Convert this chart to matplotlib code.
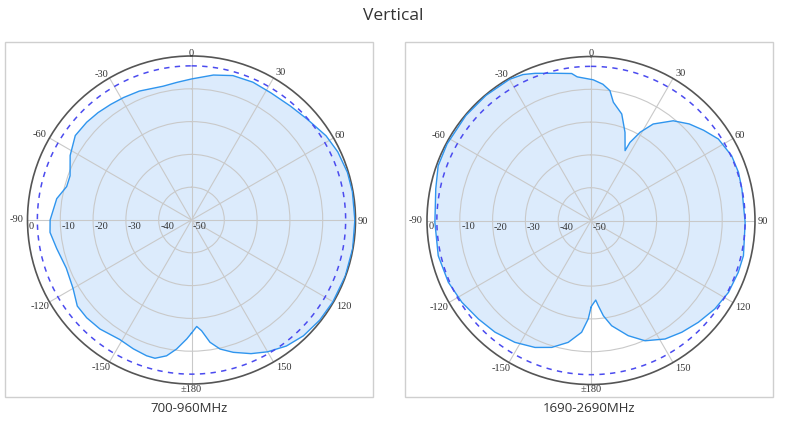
import numpy as np
import matplotlib
matplotlib.use("Agg")
import matplotlib.pyplot as plt
from matplotlib.patches import Rectangle
import matplotlib.transforms as mtransforms

# ---------------- data ----------------
title = "Vertical"
panel_titles = ["700-960MHz", "1690-2690MHz"]

angle_ticks = [0, 30, 60, 90, 120, 150, 180, -150, -120, -90, -60, -30]
angle_labels = ["0", "30", "60", "90", "120", "150", "\u00b1180",
                "-150", "-120", "-90", "-60", "-30"]
radial_ticks = [0, -10, -20, -30, -40, -50]
radial_labels = ["0", "-10", "-20", "-30", "-40", "-50"]
ref_level = -3  # dashed reference circle (dB)

# 700-960 MHz pattern: angle (deg, clockwise from top) and gain (dB)
low_angles = [-180, -177.7, -173.4, -169.6, -165.2, -161.7, -155.7, -149, -140,
              -133, -127, -120, -111, -102, -95, -90, -81, -75, -70, -62, -54,
              -47, -41, -35, -29, -22, -12, -6, 0, 8.6, 16, 24, 32, 41, 49, 58,
              65, 73, 80, 90, 100, 110, 120, 128, 136, 143, 150, 156, 162.5,
              167.5, 171.4, 174.8, 177.2, 180]
low_gain = [-15.5, -13.7, -10.4, -7.9, -6.4, -6.4, -6.9, -7.5, -6.6,
            -6.3, -6.4, -8.3, -9.1, -8.0, -6.7, -6.9, -8.4, -10.6, -10.6, -8.1, -6.2,
            -6.3, -6.6, -7.0, -7.3, -7.6, -8.3, -7.8, -7.0, -5.3, -4.2, -4.0, -4.3, -4.0, -3.2, -1.6,
            -0.8, -0.3, -0.2, -0.2, -0.1, -0.1, -0.2, -0.4, -0.9, -1.9, -3.6, -5.4, -7.7,
            -9.7, -12.3, -16.1, -17.5, -15.5]

# 1690-2690 MHz pattern
high_angles = [-180, -178.4, -175.2, -169.4, -162.8, -156.2, -148, -139.3, -131.2,
               -122.3, -113.4, -103, -90.7, -78.5, -70.3, -62, -50, -40, -30, -25,
               -20.8, -13.7, -7.5, -5.5, 0.9, 5, 8.3, 10.7, 16.1, 21.1, 26, 26.5,
               29.1, 32.8, 39.5, 45.5, 51.3, 57.4, 65.3, 71.9, 78.2, 90.7, 103,
               109.4, 117.6, 125.5, 133.5, 140.9, 148, 155.8, 162.1, 168.9, 172.6,
               175.1, 176.6, 179.5, 180]
high_gain = [-23.5, -20.0, -15.8, -12.2, -9.5, -7.7, -6.2, -5.1, -4.4,
             -3.4, -2.6, -2.2, -2.4, -1.7, -0.5, -0.3, -0.2, -0.2, -0.3, -0.9,
             -2.0, -3.8, -4.8, -6.0, -7.1, -8.3, -10.0, -13.3, -16.2, -21.2, -26.3, -23.4,
             -19.2, -15.0, -10.6, -8.0, -6.0, -3.9, -2.8, -2.7, -3.0, -3.0, -2.3,
             -2.4, -2.7, -3.6, -4.9, -6.1, -7.4, -9.8, -13.1, -17.3, -20.7,
             -23.9, -25.7, -24.0, -23.5]

# ---------------- layout ----------------
W, H = 789, 431
fig = plt.figure(figsize=(W / 100, H / 100), dpi=100)
fig.patch.set_facecolor("white")

R = 164  # circle radius in px
centers = [(191.5, 221), (591, 221.5)]
boxes = [(5, 43, 373, 398), (405, 43, 773, 398)]
datasets = [(low_angles, low_gain), (high_angles, high_gain)]

text_col = "#333333"
tick_font = dict(family="Liberation Serif", size=7.5, color=text_col)

# label centre offsets in px (x right, y down)
lab_off = {0: (0, -4), 30: (7.5, -6), 60: (6.5, -4), 90: (7.5, 0),
           120: (10, 3.7), 150: (10, 4.7), 180: (0, 4), -150: (-8, 4.7),
           -120: (-9.5, 3.7), -90: (-11, -1), -60: (-10, -4), -30: (-8, -4.7)}

for (cx, cy), (bx0, by0, bx1, by1), (angs, gains), ptitle in zip(
        centers, boxes, datasets, panel_titles):
    # frame box
    fig.add_artist(Rectangle((bx0 / W, 1 - by1 / H), (bx1 - bx0) / W, (by1 - by0) / H,
                             transform=fig.transFigure, fill=False,
                             ec="#cfcfcf", lw=1.0))
    ax = fig.add_axes([(cx - R) / W, 1 - (cy + R) / H, 2 * R / W, 2 * R / H],
                      projection="polar")
    ax.set_theta_zero_location("N")
    ax.set_theta_direction(-1)
    ax.set_rlim(-50, 0)
    ax.set_rticks([-40, -30, -20, -10])
    ax.set_yticklabels([])
    ax.set_thetagrids(np.arange(0, 360, 30), labels=[""] * 12)
    ax.grid(True, color="#c9c9c9", lw=0.8)
    ax.spines["polar"].set_color("#555555")
    ax.spines["polar"].set_linewidth(1.2)
    ax.set_facecolor("none")
    ax.tick_params(axis="both", length=0)

    th = np.deg2rad(angs)
    ax.fill(th, gains, color="#dcebfc", zorder=1, lw=0)
    ax.plot(th, gains, color="#2f95ee", lw=1.0, zorder=3)

    circ = np.linspace(0, 2 * np.pi, 361)
    ax.plot(circ, np.full_like(circ, ref_level), color="#4b4bef", lw=1.1,
            ls=(0, (3.5, 3.5)), zorder=3)

    # angle labels
    for a, lab in zip(angle_ticks, angle_labels):
        ox, oy = lab_off[a]
        tr = mtransforms.offset_copy(ax.transData, fig=fig, x=ox, y=-oy, units="dots")
        ax.text(np.deg2rad(a), 0, lab, transform=tr, ha="center", va="center",
                clip_on=False, **tick_font)
    # radial labels along the -90 direction
    for v, lab in zip(radial_ticks, radial_labels):
        tr = mtransforms.offset_copy(ax.transData, fig=fig, x=1.5, y=-5.5, units="dots")
        ax.text(np.deg2rad(-90), v, lab, transform=tr, ha="left", va="center",
                clip_on=False, **tick_font)

    fig.text(((bx0 + bx1) / 2) / W, 1 - 409 / H, ptitle, ha="center", va="center",
             family="Open Sans", fontsize=9.5, color=text_col)

fig.text(393 / W, 1 - 16 / H, title, ha="center", va="center",
         family="Open Sans", fontsize=12.5, color=text_col)

fig.savefig("out.png", dpi=100)
